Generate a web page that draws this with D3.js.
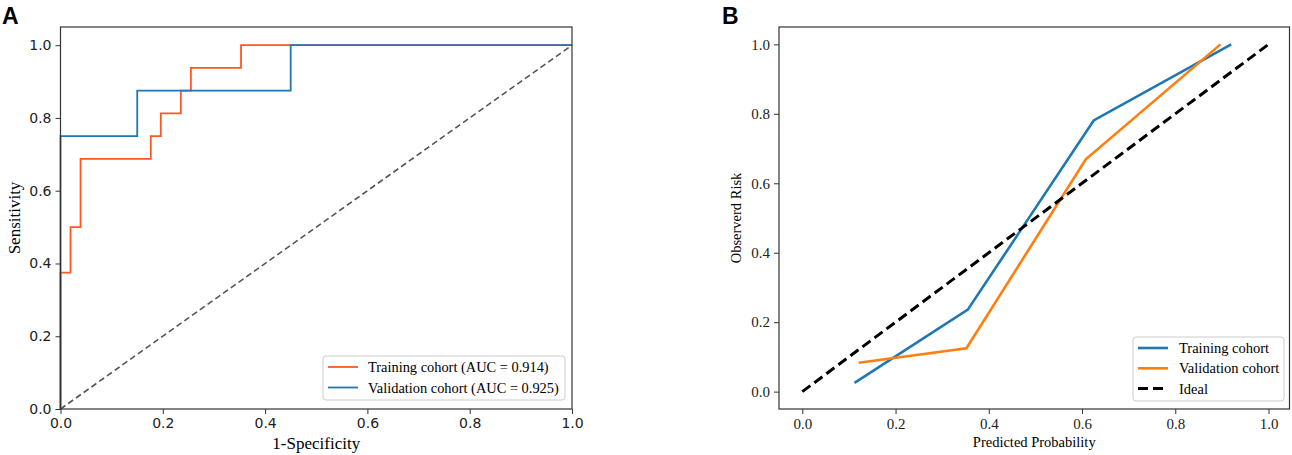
<!DOCTYPE html>
<html>
<head>
<meta charset="utf-8">
<script src="https://cdn.jsdelivr.net/npm/d3@7"></script>
<style>
  body { margin: 0; background: #fff; }
  svg { display: block; }
</style>
</head>
<body>
<div id="root"></div>
<script>
const width = 1292
const height = 455

// panel A: ROC curves (step points)
const trainFpr = [0, 0, 0.0196, 0.0196, 0.0392, 0.0392, 0.1765, 0.1765, 0.1961, 0.1961, 0.2353, 0.2353, 0.2549, 0.2549, 0.3529, 0.3529, 1]
const trainTpr = [0, 0.375, 0.375, 0.5, 0.5, 0.6875, 0.6875, 0.75, 0.75, 0.8125, 0.8125, 0.875, 0.875, 0.9375, 0.9375, 1, 1]
const validFpr = [0, 0, 0.15, 0.15, 0.45, 0.45, 1]
const validTpr = [0, 0.75, 0.75, 0.875, 0.875, 1, 1]
const rocLabels = ['Training cohort (AUC = 0.914)', 'Validation cohort (AUC = 0.925)']
const rocTicks = [0, 0.2, 0.4, 0.6, 0.8, 1.0]

// panel B: calibration curves
const trainPred = [0.112, 0.355, 0.625, 0.92]
const trainObs = [0.025, 0.236, 0.781, 1.0]
const validPred = [0.121, 0.352, 0.608, 0.897]
const validObs = [0.083, 0.125, 0.669, 1.0]
const idealPts = [0, 1]
const calLabels = ['Training cohort', 'Validation cohort', 'Ideal']
const calTicks = [0, 0.2, 0.4, 0.6, 0.8, 1.0]

const svg = d3.select('#root').append('svg')
  .attr('width', width)
  .attr('height', height)

const zip = (xs, ys) => xs.map((x, i) => [x, ys[i]])

// ---------- panel A ----------
const xA = d3.scaleLinear().domain([0, 1]).range([60.5, 572])
const yA = d3.scaleLinear().domain([0, 1.05]).range([409, 27])
const gA = svg.append('g')

gA.append('text')
  .attr('x', 2).attr('y', 24)
  .style('font', 'bold 23px "Liberation Sans", Arial, sans-serif')
  .text('A')

const lineA = d3.line().x(d => xA(d[0])).y(d => yA(d[1]))

gA.append('path')
  .attr('d', lineA(zip(idealPts, idealPts)))
  .attr('fill', 'none')
  .attr('stroke', '#555')
  .attr('stroke-width', 1.6)
  .attr('stroke-dasharray', '6,3.5')

const rocColors = ['#ff5722', '#1f77b4']
;[[trainFpr, trainTpr], [validFpr, validTpr]].forEach(([f, t], i) => {
  gA.append('path')
    .attr('d', lineA(zip(f, t)))
    .attr('fill', 'none')
    .attr('stroke', rocColors[i])
    .attr('stroke-width', 1.8)
})

gA.append('rect')
  .attr('x', xA.range()[0]).attr('y', yA.range()[1])
  .attr('width', xA.range()[1] - xA.range()[0])
  .attr('height', yA.range()[0] - yA.range()[1])
  .attr('fill', 'none').attr('stroke', '#333').attr('stroke-width', 1.2)

const axA = gA.append('g').attr('transform', `translate(0,${yA.range()[0]})`)
  .call(d3.axisBottom(xA).tickValues(rocTicks).tickFormat(d3.format('.1f')).tickSize(5).tickPadding(4))
const ayA = gA.append('g').attr('transform', `translate(${xA.range()[0]},0)`)
  .call(d3.axisLeft(yA).tickValues(rocTicks).tickFormat(d3.format('.1f')).tickSize(5).tickPadding(4))
;[axA, ayA].forEach(a => {
  a.select('.domain').remove()
  a.selectAll('line').attr('stroke', '#333')
  a.selectAll('text').style('font', '14px "DejaVu Sans", sans-serif').attr('fill', '#222')
})

gA.append('text')
  .attr('x', (xA.range()[0] + xA.range()[1]) / 2).attr('y', 449)
  .attr('text-anchor', 'middle')
  .style('font', '17px "Liberation Serif", "Times New Roman", serif')
  .text('1-Specificity')
gA.append('text')
  .attr('transform', `translate(20,${(yA.range()[0] + yA.range()[1]) / 2}) rotate(-90)`)
  .attr('text-anchor', 'middle')
  .style('font', '17px "Liberation Serif", "Times New Roman", serif')
  .text('Sensitivity')

const legA = gA.append('g').attr('transform', 'translate(323,356)')
legA.append('rect')
  .attr('width', 242).attr('height', 44).attr('rx', 3)
  .attr('fill', '#fff').attr('stroke', '#ccc')
rocLabels.forEach((lab, i) => {
  legA.append('line')
    .attr('x1', 5).attr('x2', 35).attr('y1', 11 + i * 20.5).attr('y2', 11 + i * 20.5)
    .attr('stroke', rocColors[i]).attr('stroke-width', 1.8)
  legA.append('text')
    .attr('x', 45).attr('y', 16 + i * 20.5)
    .style('font', '14.4px "Liberation Serif", "Times New Roman", serif')
    .text(lab)
})

// ---------- panel B ----------
const xB = d3.scaleLinear().domain([-0.05, 1.045]).range([779, 1289.5])
const yB = d3.scaleLinear().domain([-0.05, 1.05]).range([409, 27])
const gB = svg.append('g')

gB.append('text')
  .attr('x', 722).attr('y', 24)
  .style('font', 'bold 23px "Liberation Sans", Arial, sans-serif')
  .text('B')

const lineB = d3.line().x(d => xB(d[0])).y(d => yB(d[1]))
const calColors = ['#1f77b4', '#ff7f0e']

;[[trainPred, trainObs], [validPred, validObs]].forEach(([p, o], i) => {
  gB.append('path')
    .attr('d', lineB(zip(p, o)))
    .attr('fill', 'none')
    .attr('stroke', calColors[i])
    .attr('stroke-width', 2.6)
})
gB.append('path')
  .attr('d', lineB(zip(idealPts, idealPts)))
  .attr('fill', 'none')
  .attr('stroke', '#000')
  .attr('stroke-width', 3)
  .attr('stroke-dasharray', '10,5')

gB.append('rect')
  .attr('x', xB.range()[0]).attr('y', yB.range()[1])
  .attr('width', xB.range()[1] - xB.range()[0])
  .attr('height', yB.range()[0] - yB.range()[1])
  .attr('fill', 'none').attr('stroke', '#333').attr('stroke-width', 1.2)

const axB = gB.append('g').attr('transform', `translate(0,${yB.range()[0]})`)
  .call(d3.axisBottom(xB).tickValues(calTicks).tickFormat(d3.format('.1f')).tickSize(5).tickPadding(4))
const ayB = gB.append('g').attr('transform', `translate(${xB.range()[0]},0)`)
  .call(d3.axisLeft(yB).tickValues(calTicks).tickFormat(d3.format('.1f')).tickSize(5).tickPadding(4))
;[axB, ayB].forEach(a => {
  a.select('.domain').remove()
  a.selectAll('line').attr('stroke', '#333')
  a.selectAll('text').style('font', '15px "Liberation Serif", "Times New Roman", serif').attr('fill', '#222')
})

gB.append('text')
  .attr('x', (xB.range()[0] + xB.range()[1]) / 2).attr('y', 447)
  .attr('text-anchor', 'middle')
  .style('font', '14.5px "Liberation Serif", "Times New Roman", serif')
  .text('Predicted Probability')
gB.append('text')
  .attr('transform', `translate(741,${(yB.range()[0] + yB.range()[1]) / 2}) rotate(-90)`)
  .attr('text-anchor', 'middle')
  .style('font', '14.5px "Liberation Serif", "Times New Roman", serif')
  .text('Observerd Risk')

const legB = gB.append('g').attr('transform', 'translate(1133,337)')
legB.append('rect')
  .attr('width', 151).attr('height', 64).attr('rx', 3)
  .attr('fill', '#fff').attr('stroke', '#ccc')
calLabels.forEach((lab, i) => {
  const ln = legB.append('line')
    .attr('x1', 5).attr('x2', 35).attr('y1', 11 + i * 20.3).attr('y2', 11 + i * 20.3)
    .attr('stroke', i < 2 ? calColors[i] : '#000')
    .attr('stroke-width', i < 2 ? 2.6 : 3)
  if (i === 2) ln.attr('stroke-dasharray', '10,5')
  legB.append('text')
    .attr('x', 46).attr('y', 16 + i * 20.3)
    .style('font', '14.5px "Liberation Serif", "Times New Roman", serif')
    .text(lab)
})
</script>
</body>
</html>
